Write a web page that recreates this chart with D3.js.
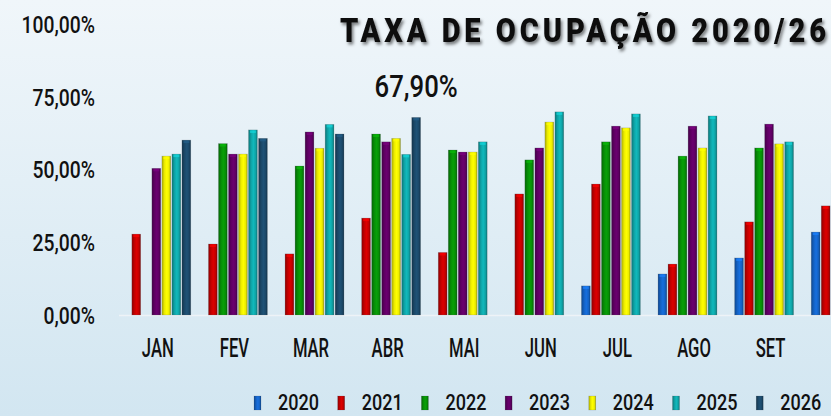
<!DOCTYPE html>
<html>
<head>
<meta charset="utf-8">
<script src="https://cdn.jsdelivr.net/npm/d3@7/dist/d3.min.js"></script>
<style>
  html, body { margin: 0; padding: 0; }
  body { width: 831px; height: 416px; overflow: hidden; }
  svg { display: block; }
  .lbl { font-family: Roboto, "Liberation Sans", sans-serif; font-weight: 500; fill: #111; }
</style>
</head>
<body>
<svg id="chart" width="831" height="416"></svg>
<script>
// Occupancy rate per month, one array per year (null = no data)
const months = ["JAN", "FEV", "MAR", "ABR", "MAI", "JUN", "JUL", "AGO", "SET", "OUT"];
const years = ["2020", "2021", "2022", "2023", "2024", "2025", "2026"];
const v2020 = [null, null, null, null, null, null, 10.0, 14.1, 19.6, 28.5];
const v2021 = [27.8, 24.4, 21.0, 33.3, 21.5, 41.6, 45.0, 17.5, 32.0, 37.5];
const v2022 = [null, 58.9, 51.2, 62.2, 56.7, 53.3, 59.5, 54.6, 57.4, 48.7];
const v2023 = [50.4, 55.3, 62.9, 59.5, 56.0, 57.4, 64.9, 64.9, 65.6, null];
const v2024 = [54.6, 55.3, 57.3, 60.7, 56.0, 66.3, 64.3, 57.4, 58.8, null];
const v2025 = [55.3, 63.6, 65.5, 55.2, 59.5, 69.8, 69.1, 68.4, 59.5, null];
const v2026 = [60.1, 60.7, 62.2, 67.90, null, null, null, null, null, null];
const yTicks = [0, 25, 50, 75, 100];
const titleText = "TAXA DE OCUPAÇÃO 2020/26";
// Highlighted value: latest month of the current year
const highlight = { month: "ABR", year: "2026" };

const seriesValues = { "2020": v2020, "2021": v2021, "2022": v2022, "2023": v2023, "2024": v2024, "2025": v2025, "2026": v2026 };
const colors = {
  "2020": "#1462c4",
  "2021": "#c20000",
  "2022": "#078d07",
  "2023": "#5e0062",
  "2024": "#ecec00",
  "2025": "#0fa3a6",
  "2026": "#1b4868"
};

const W = 831, H = 416;
const fmt = v => v.toFixed(2).replace(".", ",") + "%";

const svg = d3.select("#chart");
const defs = svg.append("defs");

// Background wash
const bg = defs.append("linearGradient").attr("id", "bg").attr("x1", 0).attr("y1", 0).attr("x2", 0).attr("y2", 1);
bg.append("stop").attr("offset", 0).attr("stop-color", "#f0f6fa");
bg.append("stop").attr("offset", 1).attr("stop-color", "#d2e6f1");
svg.append("rect").attr("width", W).attr("height", H).attr("fill", "url(#bg)");

// Glossy cylinder-like gradient for each series
years.forEach(yr => {
  const c = d3.color(colors[yr]);
  const g = defs.append("linearGradient").attr("id", "g" + yr).attr("x1", 0).attr("x2", 1).attr("y1", 0).attr("y2", 0);
  g.append("stop").attr("offset", 0).attr("stop-color", c.darker(0.9));
  g.append("stop").attr("offset", 0.3).attr("stop-color", c);
  g.append("stop").attr("offset", 0.55).attr("stop-color", c.brighter(0.35));
  g.append("stop").attr("offset", 0.8).attr("stop-color", c);
  g.append("stop").attr("offset", 1).attr("stop-color", c.darker(1.0));
});

const shadow = defs.append("filter").attr("id", "tshadow").attr("x", "-10%").attr("y", "-30%").attr("width", "130%").attr("height", "180%");
shadow.append("feDropShadow").attr("dx", 2).attr("dy", 2.5).attr("stdDeviation", 1.8).attr("flood-color", "#000").attr("flood-opacity", 0.5);

// Condensed text helper: horizontally squeezed glyphs anchored at (px, py)
function condensed(sel, px, py, sx) {
  return sel.attr("transform", `translate(${px},${py}) scale(${sx},1)`);
}

// Scales
const x = d3.scaleBand().domain(months).range([118, 884]).paddingInner(0.1).paddingOuter(0.05);
const x1 = d3.scaleBand().domain(years).range([0, x.bandwidth()]).paddingInner(0.12);
const y = d3.scaleLinear().domain([0, 100]).range([315, 24]);

// Title
const titleSx = 0.88;
condensed(svg.append("text"), 340, 42, titleSx)
  .attr("class", "lbl")
  .attr("textLength", 486 / titleSx).attr("lengthAdjust", "spacing")
  .style("font-size", "33px").style("font-weight", "900")
  .attr("filter", "url(#tshadow)")
  .text(titleText);

// Y axis
const yAxis = svg.append("g").attr("transform", "translate(95,0)")
  .call(d3.axisLeft(y).tickValues(yTicks).tickSize(0).tickPadding(0).tickFormat(fmt));
yAxis.select(".domain").remove();
yAxis.selectAll("text").attr("class", "lbl").attr("fill", "#111").attr("dy", "0.36em")
  .attr("transform", "scale(0.84,1)")
  .style("font-size", "23px").style("font-family", null);

// Baseline
svg.append("line").attr("x1", 119).attr("x2", W).attr("y1", y(0) + 0.5).attr("y2", y(0) + 0.5)
  .attr("stroke", "#eef3f7").attr("stroke-width", 1.5);

// Bars
const rows = [];
months.forEach((m, i) => years.forEach(yr => {
  const v = seriesValues[yr][i];
  if (v != null) rows.push({ month: m, year: yr, value: v });
}));

const bars = svg.append("g").selectAll("g").data(rows).join("g")
  .attr("transform", d => `translate(${x(d.month) + x1(d.year)},0)`);
bars.append("rect")
  .attr("x", 0).attr("y", d => y(d.value))
  .attr("width", x1.bandwidth()).attr("height", d => y(0) - y(d.value))
  .attr("fill", d => `url(#g${d.year})`)
  .attr("stroke", "rgba(90,100,110,0.35)").attr("stroke-width", 0.6);
bars.append("rect")
  .attr("x", 1.5).attr("y", d => y(d.value) + 0.5)
  .attr("width", x1.bandwidth() - 3).attr("height", 2.5)
  .attr("fill", d => d3.color(colors[d.year]).brighter(0.8))
  .attr("opacity", 0.7);

// Value label for the highlighted bar
const hv = seriesValues[highlight.year][months.indexOf(highlight.month)];
condensed(svg.append("text"), x(highlight.month) + x1(highlight.year) + x1.bandwidth() / 2, y(hv) - 20, 0.83)
  .attr("class", "lbl")
  .attr("text-anchor", "middle")
  .style("font-size", "31px")
  .text(fmt(hv));

// Month labels (only those whose label sits inside the view)
const visibleMonths = months.filter(m => x(m) + x.bandwidth() / 2 + 20 < W);
svg.append("g").selectAll("text").data(visibleMonths).join("text")
  .attr("class", "lbl")
  .attr("transform", d => `translate(${x(d) + x.bandwidth() / 2 + 1.5},357) scale(0.64,1)`)
  .attr("text-anchor", "middle")
  .style("font-size", "26px")
  .text(d => d);

// Legend
const legend = svg.append("g").selectAll("g").data(years).join("g")
  .attr("transform", (d, i) => `translate(${254 + i * 83.7},0)`);
legend.append("rect").attr("x", 0).attr("y", 396).attr("width", 7).attr("height", 14)
  .attr("fill", d => `url(#g${d})`).attr("stroke", "rgba(60,70,80,0.3)").attr("stroke-width", 0.5);
legend.append("text").attr("class", "lbl")
  .attr("transform", "translate(24,410) scale(0.82,1)")
  .style("font-size", "22px")
  .text(d => d);
</script>
</body>
</html>
